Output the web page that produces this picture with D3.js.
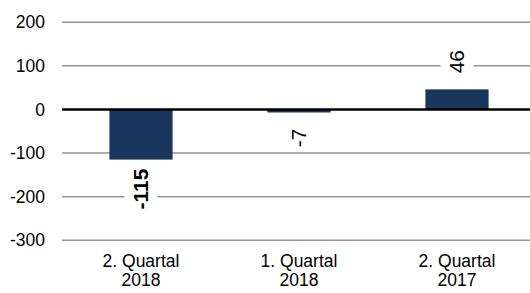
<!DOCTYPE html>
<html>
<head>
<meta charset="utf-8">
<script src="https://cdn.jsdelivr.net/npm/d3@7"></script>
<style>
  html, body { margin: 0; padding: 0; background: #fff; }
  svg { display: block; font-family: "Liberation Sans", Arial, sans-serif; }
</style>
</head>
<body>
<svg width="530" height="293"></svg>
<script>
const categories = ["2. Quartal 2018", "1. Quartal 2018", "2. Quartal 2017"];
const catLines = [["2. Quartal", "2018"], ["1. Quartal", "2018"], ["2. Quartal", "2017"]];
const values = [-115, -7, 46];
const yTicks = [200, 100, 0, -100, -200, -300];
const emphasis = "2. Quartal 2018";

const barColor = "#1b365d";

var svg = d3.select("svg"),
    width = +svg.attr("width"),
    height = +svg.attr("height");

var x = d3.scaleBand()
    .domain(categories)
    .range([62, 536])
    .paddingInner(0.6)
    .paddingOuter(0.3);

var y = d3.scaleLinear()
    .domain([-300, 200])
    .range([240.3, 22.2]);

// gridlines
svg.append("g")
    .selectAll("line")
    .data(yTicks.filter(d => d !== 0))
    .join("line")
    .attr("x1", 62)
    .attr("x2", width)
    .attr("y1", d => y(d))
    .attr("y2", d => y(d))
    .attr("stroke", "#959595")
    .attr("stroke-width", 1.5);

// tick labels
svg.append("g")
    .selectAll("text")
    .data(yTicks)
    .join("text")
    .attr("x", 45)
    .attr("y", d => y(d))
    .attr("dy", "0.35em")
    .attr("text-anchor", "end")
    .attr("font-size", 17.5)
    .attr("fill", "#000")
    .text(d => d);

// bars
svg.append("g")
    .selectAll("rect")
    .data(values)
    .join("rect")
    .attr("x", (d, i) => x(categories[i]))
    .attr("width", x.bandwidth())
    .attr("y", d => y(Math.max(0, d)))
    .attr("height", d => Math.abs(y(d) - y(0)))
    .attr("fill", barColor);

// zero line
svg.append("line")
    .attr("x1", 62)
    .attr("x2", width)
    .attr("y1", y(0))
    .attr("y2", y(0))
    .attr("stroke", "#000")
    .attr("stroke-width", 2.5);

// category labels
var cat = svg.append("g")
    .selectAll("text")
    .data(categories)
    .join("text")
    .attr("x", d => x(d) + x.bandwidth() / 2)
    .attr("text-anchor", "middle")
    .attr("font-size", 17.5)
    .attr("fill", "#000");
cat.selectAll("tspan")
    .data((d, i) => catLines[i])
    .join("tspan")
    .attr("x", function () { return this.parentNode.getAttribute("x"); })
    .attr("y", (d, j) => 267 + j * 19)
    .text(d => d);

// value labels, rotated, on white boxes
values.forEach((v, i) => {
    const bold = categories[i] === emphasis;
    const g = svg.append("g");
    const t = g.append("text")
        .attr("text-anchor", "middle")
        .attr("dy", "0.35em")
        .attr("font-size", 21)
        .attr("font-weight", bold ? "bold" : "normal")
        .attr("fill", "#000")
        .text(v);
    const len = t.node().getComputedTextLength();
    const gap = bold ? 9 : 16;
    const cx = x(categories[i]) + x.bandwidth() / 2;
    const cy = v < 0 ? y(v) + gap + len / 2 : y(v) - gap - len / 2;
    g.attr("transform", `translate(${cx},${cy}) rotate(-90)`);
    g.insert("rect", "text")
        .attr("x", -len / 2 - 4)
        .attr("y", -16.5)
        .attr("width", len + 8)
        .attr("height", 33)
        .attr("fill", "#fff");
});
</script>
</body>
</html>
